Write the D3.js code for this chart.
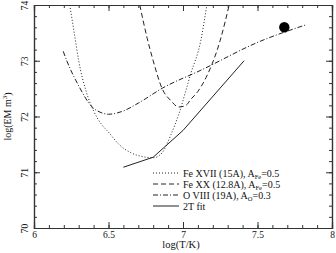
<!DOCTYPE html>
<html>
<head>
<meta charset="utf-8">
<script src="https://cdn.jsdelivr.net/npm/d3@7"></script>
<style>
  body { margin: 0; background: #fff; }
  svg { display: block; }
  text { font-family: "Liberation Serif", "DejaVu Serif", serif; fill: #111; }
</style>
</head>
<body>
<div id="chart"></div>
<script>
// curves: log T vs log EM
const feXVII_T = [6.24, 6.27, 6.30, 6.35, 6.40, 6.45, 6.50, 6.57, 6.65, 6.73, 6.80, 6.86, 6.92, 6.97, 7.05, 7.12, 7.16];
const feXVII_EM = [74.0, 73.5, 73.0, 72.45, 72.1, 71.87, 71.72, 71.5, 71.35, 71.28, 71.26, 71.35, 71.68, 72.03, 72.75, 73.37, 74.0];

const feXX_T = [6.71, 6.76, 6.80, 6.86, 6.92, 6.97, 7.02, 7.05, 7.10, 7.155, 7.25, 7.31];
const feXX_EM = [74.0, 73.4, 73.0, 72.5, 72.28, 72.17, 72.2, 72.3, 72.45, 72.7, 73.37, 74.0];

const oVIII_T = [6.196, 6.22, 6.30, 6.39, 6.45, 6.50, 6.60, 6.70, 6.863, 7.12, 7.51, 7.82];
const oVIII_EM = [73.17, 73.0, 72.55, 72.17, 72.07, 72.04, 72.1, 72.24, 72.51, 72.83, 73.34, 73.64];

const fit_T = [6.6, 6.8, 7.0, 7.41];
const fit_EM = [71.09, 71.27, 71.75, 73.0];

const point_T = [7.68];
const point_EM = [73.6];

const xTicks = [6, 6.5, 7, 7.5, 8];
const yTicks = [70, 71, 72, 73, 74];

const legendLabels = [
  ["Fe XVII (15A), A", "Fe", "=0.5"],
  ["Fe XX (12.8A), A", "Fe", "=0.5"],
  ["O VIII (19A), A", "O", "=0.3"],
  ["2T fit", "", ""]
];
const legendDash = ["1,2", "5,3", "5,2,1,2", null];

const W = 336, H = 253;
const mLeft = 34, mRight = 332, mTop = 5, mBottom = 228;

const svg = d3.select("#chart").append("svg")
  .attr("width", W).attr("height", H);

const x = d3.scaleLinear().domain([6, 8]).range([mLeft, mRight]);
const y = d3.scaleLinear().domain([70, 74]).range([mBottom, mTop]);

svg.append("clipPath").attr("id", "clip")
  .append("rect").attr("x", mLeft).attr("y", mTop)
  .attr("width", mRight - mLeft).attr("height", mBottom - mTop);

// frame with inward ticks
const axisColor = "#333";
const addAxis = (axis, tx, ty) => {
  const g = svg.append("g").attr("transform", `translate(${tx},${ty})`).call(axis);
  g.selectAll("path.domain").attr("stroke", axisColor).attr("stroke-width", 1.2);
  g.selectAll(".tick line").attr("stroke", axisColor);
  return g;
};

const xMinor = d3.range(6, 8.001, 0.1);
const yMinor = d3.range(70, 74.001, 0.2);

addAxis(d3.axisBottom(x).tickValues(xMinor).tickSize(-3).tickFormat(""), 0, mBottom);
addAxis(d3.axisTop(x).tickValues(xMinor).tickSize(-3).tickFormat(""), 0, mTop);
addAxis(d3.axisLeft(y).tickValues(yMinor).tickSize(-3).tickFormat(""), mLeft, 0);
addAxis(d3.axisRight(y).tickValues(yMinor).tickSize(-3).tickFormat(""), mRight, 0);

const xb = addAxis(d3.axisBottom(x).tickValues(xTicks).tickSize(-6).tickPadding(3).tickFormat(d3.format("")), 0, mBottom);
xb.selectAll("text").attr("font-size", 9.5).style("font-family", "Liberation Serif, serif").attr("fill", "#111");
addAxis(d3.axisTop(x).tickValues(xTicks).tickSize(-6).tickFormat(""), 0, mTop);
const yl = addAxis(d3.axisLeft(y).tickValues(yTicks).tickSize(-6).tickFormat(d3.format("")), mLeft, 0);
yl.selectAll("text")
  .attr("x", null).attr("dy", null)
  .attr("text-anchor", "middle")
  .attr("transform", "translate(-6,0) rotate(-90)")
  .attr("font-size", 9.5).style("font-family", "Liberation Serif, serif").attr("fill", "#111");
addAxis(d3.axisRight(y).tickValues(yTicks).tickSize(-6).tickFormat(""), mRight, 0);

// axis titles
svg.append("text")
  .attr("x", 181).attr("y", 248)
  .attr("text-anchor", "middle").attr("font-size", 10.5)
  .text("log(T/K)");

const yt = svg.append("text")
  .attr("transform", `translate(11,${(mTop + mBottom) / 2}) rotate(-90)`)
  .attr("text-anchor", "middle").attr("font-size", 10);
yt.append("tspan").text("log(EM  m");
yt.append("tspan").attr("font-size", 7).attr("dy", -4).text("3");
yt.append("tspan").attr("dy", 4).text(")");

// curves
const smooth = d3.line().x(d => x(d[0])).y(d => y(d[1])).curve(d3.curveMonotoneX);
const straight = d3.line().x(d => x(d[0])).y(d => y(d[1]));

const plot = svg.append("g").attr("clip-path", "url(#clip)");

const series = [
  { T: feXVII_T, EM: feXVII_EM, dash: legendDash[0], gen: smooth },
  { T: feXX_T, EM: feXX_EM, dash: legendDash[1], gen: smooth },
  { T: oVIII_T, EM: oVIII_EM, dash: legendDash[2], gen: smooth },
  { T: fit_T, EM: fit_EM, dash: legendDash[3], gen: straight }
];

plot.selectAll("path.curve")
  .data(series)
  .join("path")
  .attr("class", "curve")
  .attr("d", s => s.gen(d3.zip(s.T, s.EM)))
  .attr("fill", "none")
  .attr("stroke", "#222")
  .attr("stroke-width", 1)
  .attr("stroke-dasharray", s => s.dash);

svg.selectAll("circle.obs")
  .data(d3.zip(point_T, point_EM))
  .join("circle")
  .attr("class", "obs")
  .attr("cx", d => x(d[0])).attr("cy", d => y(d[1]))
  .attr("r", 5.2).attr("fill", "#000");

// legend
const lg = svg.append("g").attr("transform", "translate(153,173)");
legendLabels.forEach((lab, i) => {
  const row = lg.append("g").attr("transform", `translate(0,${i * 11})`);
  row.append("line")
    .attr("x1", 0).attr("x2", 26).attr("y1", 0).attr("y2", 0)
    .attr("stroke", "#222").attr("stroke-width", 1)
    .attr("stroke-dasharray", legendDash[i]);
  const t = row.append("text").attr("x", 30).attr("y", 3.5).attr("font-size", 10);
  t.append("tspan").text(lab[0]);
  if (lab[1]) {
    t.append("tspan").attr("font-size", 6.5).attr("dy", 2).text(lab[1]);
    t.append("tspan").attr("dy", -2).text(lab[2]);
  }
});
</script>
</body>
</html>
